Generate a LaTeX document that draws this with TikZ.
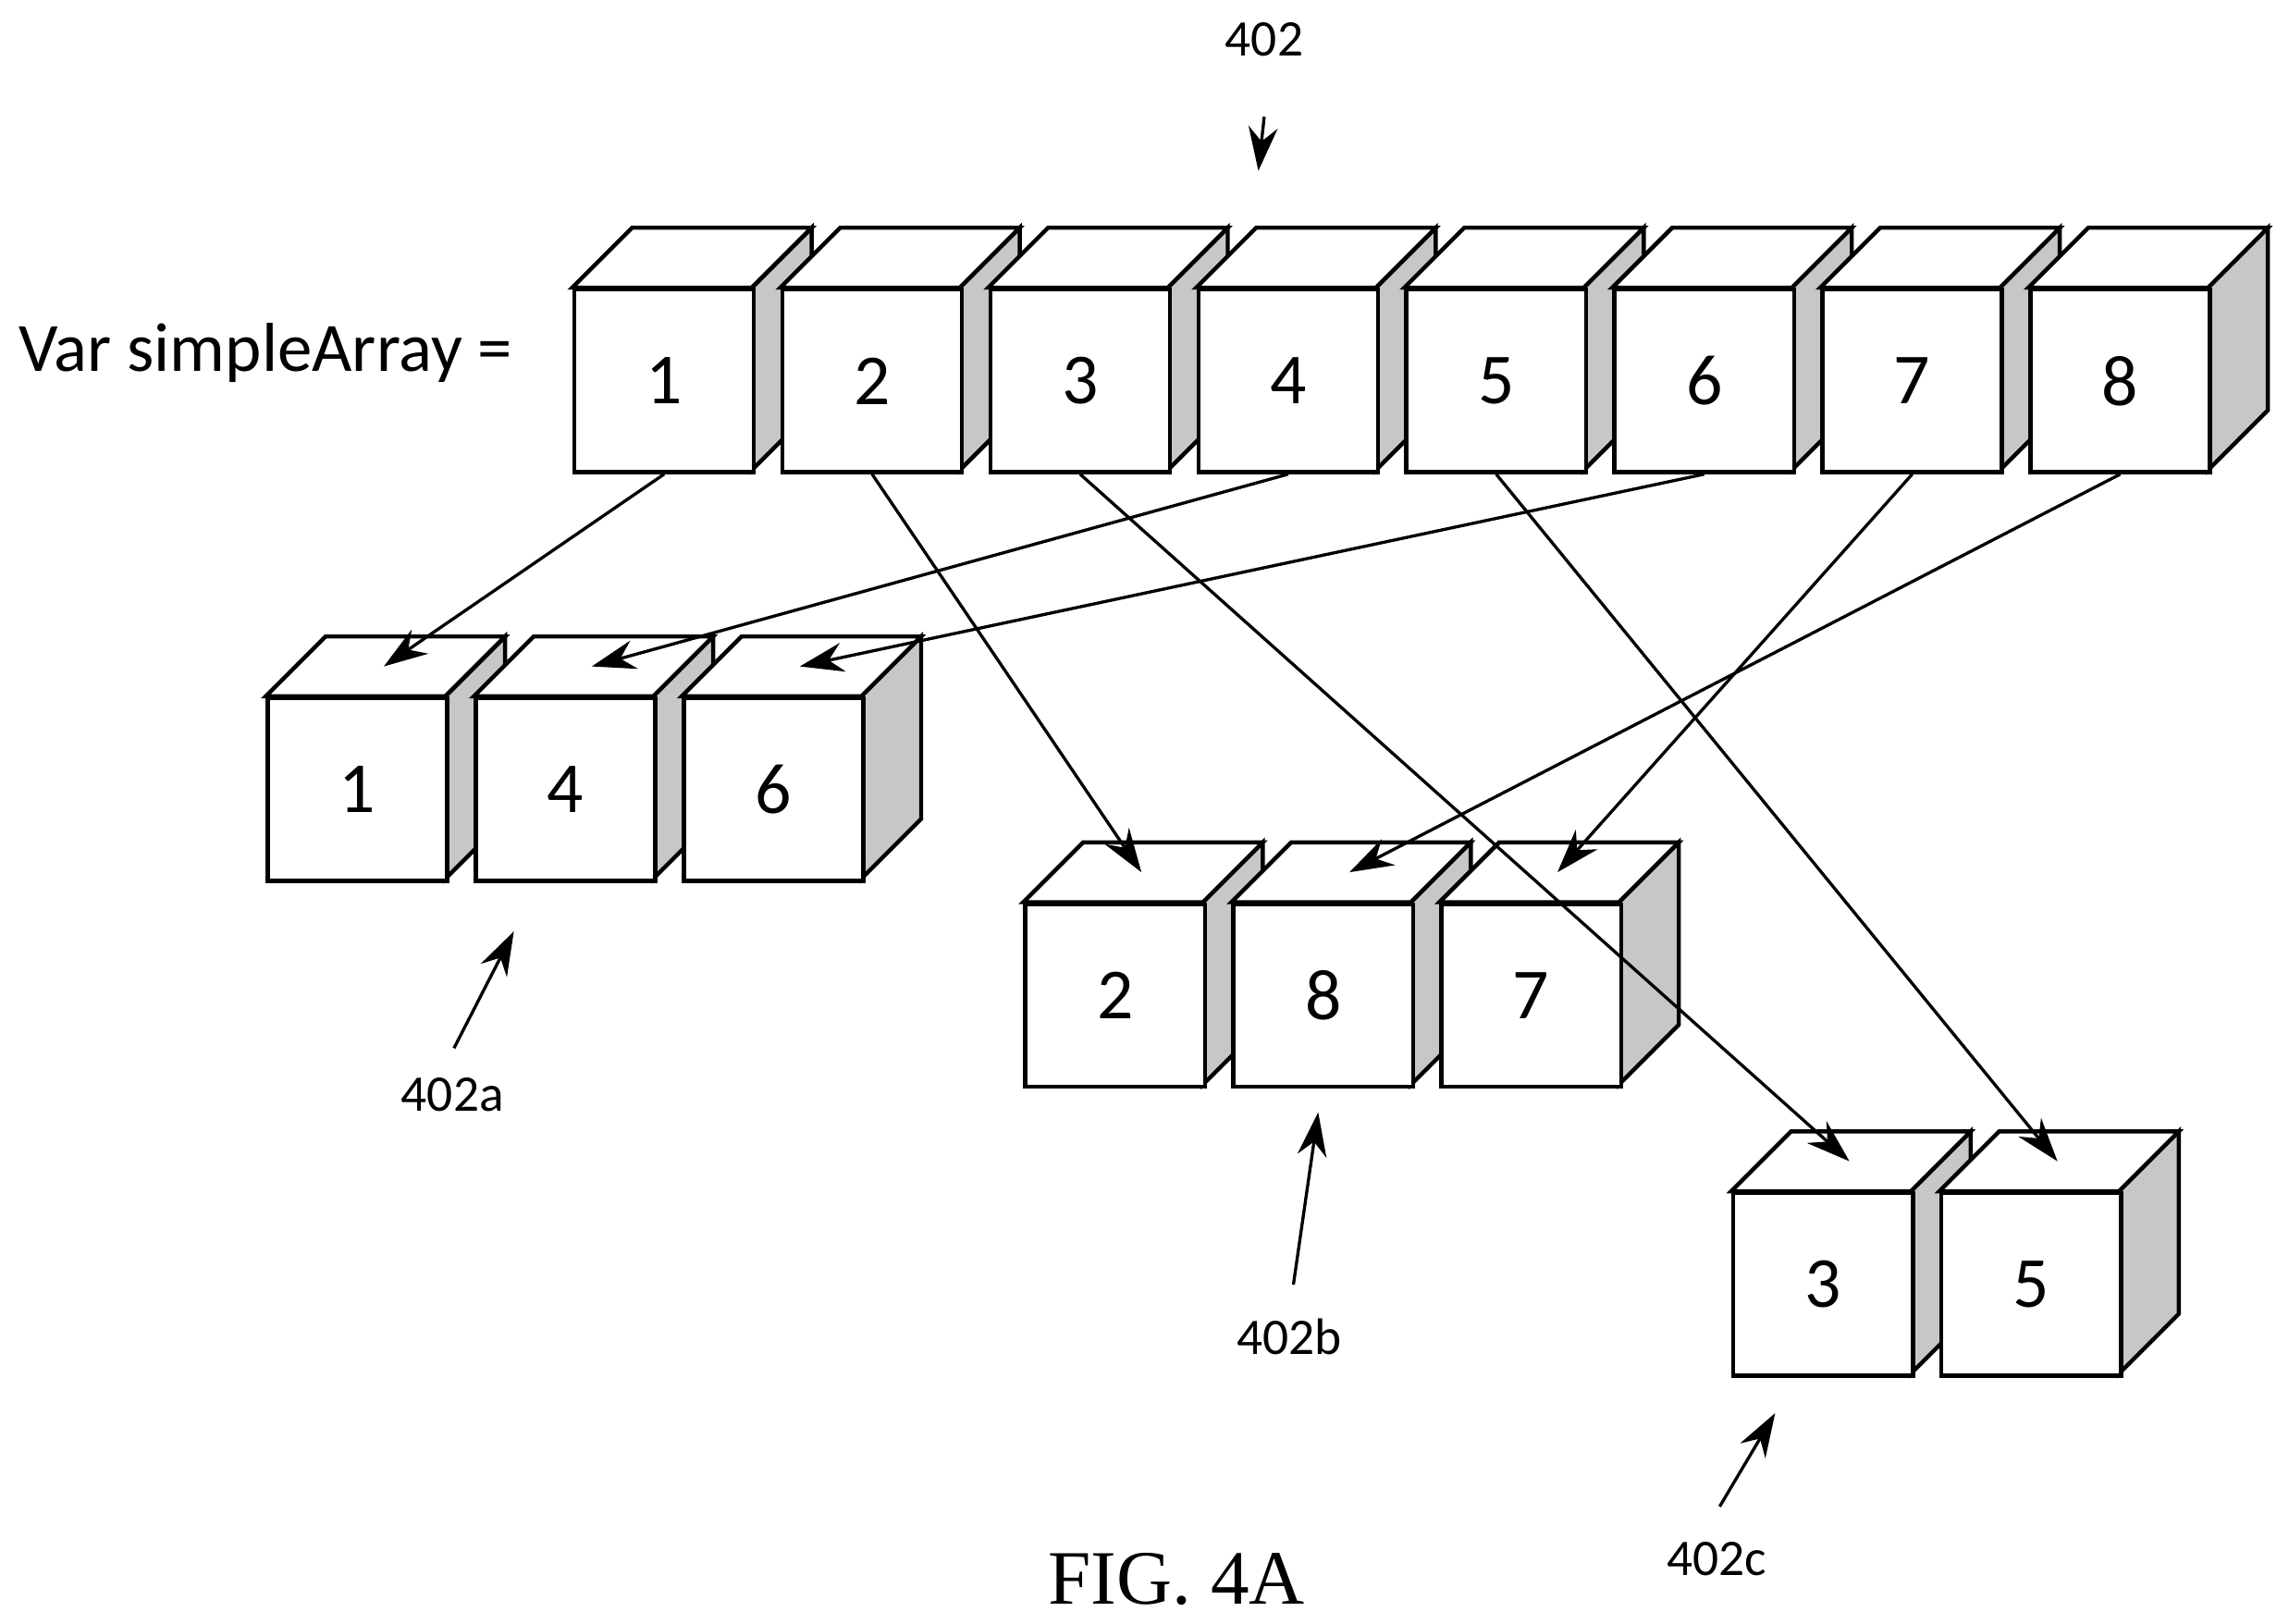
\documentclass[tikz,border=0pt]{standalone}
\usepackage{fontspec}
\setsansfont{Carlito}
\newfontfamily\figfont{Liberation Serif}
\usepackage{tikz}
\usetikzlibrary{arrows.meta,calc}

\tikzset{
  front/.style={draw,thick,fill=white,minimum width=12.3mm,minimum height=12.5mm,inner sep=0pt,
    font=\sffamily\fontsize{14}{14}\selectfont},
  face/.style={draw,thick,fill=white},
  side/.style={draw,thick,fill=black!22},
  link/.style={-{Stealth[length=3mm,width=2mm]},semithick},
  ref/.style={font=\sffamily\fontsize{10}{10}\selectfont}
}
% cube: name, left x, top y, number
\newcommand{\cube}[4]{
  \draw[side] (#2+123,#3) -- ++(41,-41) -- ++(0,125) -- ++(-41,41) -- cycle;
  \draw[face] (#2,#3) -- ++(41,-41) -- ++(123,0) -- ++(-41,41) -- cycle;
  \node[front,anchor=north west] (#1) at (#2,#3) {#4};
  \coordinate (#1t) at ($(#1.north)+(18,-20.5)$);
}

\begin{document}
\begin{tikzpicture}[x=0.1mm,y=-0.1mm]
\useasboundingbox (0,0) rectangle (1568,1112);
% main array
\node[font=\sffamily\fontsize{13.5}{13.5}\selectfont] (var) at (182,242) {Var simpleArray =};
\foreach \n [count=\i from 0] in {1,...,8}
  {\cube{t\n}{392+142.5*\i}{197}{\n}}
% sub arrays
\cube{a1}{182}{477}{1}
\cube{a4}{324.5}{477}{4}
\cube{a6}{467}{477}{6}
\cube{b2}{701}{618}{2}
\cube{b8}{843.5}{618}{8}
\cube{b7}{986}{618}{7}
\cube{c3}{1186}{816}{3}
\cube{c5}{1328.5}{816}{5}
% mapping arrows
\foreach \s/\d in {1/a1,4/a4,6/a6,2/b2,8/b8,7/b7,3/c3,5/c5}
  \draw[link] (t\s.south) -- (\d t);
% reference labels
\node[ref] (r) at (866,27) {402};
\coordinate (rp) at (862,117);
\draw[link] (866,80) -- (rp);
\node[ref] (ra) at (310,750) {402a};
\coordinate (rap) at (352,638);
\draw[link] (311,718) -- (rap);
\node[ref] (rb) at (883,916) {402b};
\coordinate (rbp) at (903,762);
\draw[link] (886,880) -- (rbp);
\node[ref] (rc) at (1176,1068) {402c};
\coordinate (rcp) at (1216,968);
\draw[link] (1178,1032) -- (rcp);
\node[font=\figfont\fontsize{15}{15}\selectfont] (fig) at (806,1082) {FIG. 4A};
\end{tikzpicture}
\end{document}
